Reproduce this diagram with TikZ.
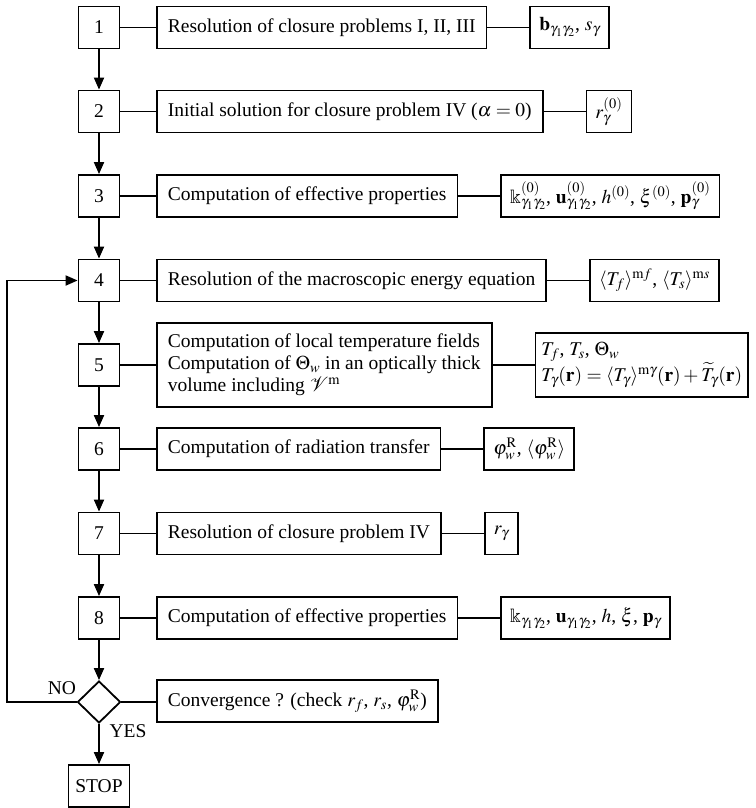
\documentclass[tikz,border=0pt]{standalone}
\usepackage{mathptmx}
\usepackage{amssymb}
\usepackage{mathrsfs}
\usepackage{fontspec}
\setmainfont{Liberation Serif}
\usetikzlibrary{arrows.meta,shapes.geometric,positioning}
\begin{document}
\begin{tikzpicture}[x=1pt,y=-1pt,
  font=\fontsize{19.5}{22}\selectfont,
  line width=1.8pt,
  num/.style={draw, minimum width=41pt, minimum height=42pt, inner sep=0pt},
  mid/.style={draw, anchor=west, minimum height=42pt, inner xsep=11pt, inner ysep=4pt},
  res/.style={draw, minimum height=42pt, inner xsep=9pt, inner ysep=4pt},
  flow/.style={-{Triangle[length=12pt,width=10pt]}}]
\useasboundingbox (0,0) rectangle (755,808);

% number boxes
\node[num] (n1) at (99,27.5) {1};
\node[num] (n2) at (99,111.5) {2};
\node[num] (n3) at (99,196) {3};
\node[num] (n4) at (99,280.5) {4};
\node[num] (n5) at (99,365) {5};
\node[num] (n6) at (99,449) {6};
\node[num] (n7) at (99,533.5) {7};
\node[num] (n8) at (99,618) {8};
\node[draw, diamond, aspect=1, minimum width=43pt, minimum height=42pt, inner sep=0pt] (dia) at (99,702) {};
\node[num, minimum width=61pt] (stop) at (99,786) {STOP};

% middle boxes
\node[mid] (m1) at (156,27.5) {Resolution of closure problems I, II, III};
\node[mid] (m2) at (156,111.5) {Initial solution for closure problem IV ($\alpha = 0$)};
\node[mid] (m3) at (156,196) {Computation of effective properties};
\node[mid] (m4) at (156,280.5) {Resolution of the macroscopic energy equation};
\node[mid, align=left, minimum height=84pt] (m5) at (156,365) {Computation of local temperature fields\\Computation of $\Theta_w$ in an optically thick\\volume including $\mathscr{V}^{\mathrm{m}}$};
\node[mid] (m6) at (156,449) {Computation of radiation transfer};
\node[mid] (m7) at (156,533.5) {Resolution of closure problem IV};
\node[mid] (m8) at (156,618) {Computation of effective properties};
\node[mid] (mc) at (156,701) {Convergence ? (check $r_f$, $r_s$, $\varphi_w^{\mathrm{R}}$)};

% result boxes
\node[res, right=42pt of m1] (r1) {$\mathbf{b}_{\gamma_1\gamma_2}$, $s_\gamma$};
\node[res, right=42pt of m2] (r2) {$r_\gamma^{(0)}$};
\node[res, right=42pt of m3] (r3) {$\Bbbk^{(0)}_{\gamma_1\gamma_2}$, $\mathbf{u}^{(0)}_{\gamma_1\gamma_2}$, $h^{(0)}$, $\xi^{(0)}$, $\mathbf{p}^{(0)}_\gamma$};
\node[res, right=42pt of m4] (r4) {$\langle T_f\rangle^{\mathrm{m}f}$, $\langle T_s\rangle^{\mathrm{m}s}$};
\node[res, right=42pt of m5, align=left, minimum height=64pt, inner xsep=6pt] (r5) {$T_f$, $T_s$, $\Theta_w$\\$T_\gamma(\mathbf{r}) = \langle T_\gamma\rangle^{\mathrm{m}\gamma}(\mathbf{r}) + \widetilde{T}_\gamma(\mathbf{r})$};
\node[res, right=42pt of m6] (r6) {$\varphi_w^{\mathrm{R}}$, $\langle\varphi_w^{\mathrm{R}}\rangle$};
\node[res, right=42pt of m7] (r7) {$r_\gamma$};
\node[res, right=42pt of m8] (r8) {$\Bbbk_{\gamma_1\gamma_2}$, $\mathbf{u}_{\gamma_1\gamma_2}$, $h$, $\xi$, $\mathbf{p}_\gamma$};

% horizontal links
\foreach \i in {1,...,8} {
  \draw (n\i.east) -- (n\i.east -| m\i.west);
  \draw (m\i.east) -- (r\i.west);
}
\draw (dia.east) -- (dia.east -| mc.west);

% vertical flow
\draw[flow] (n1) -- (n2);
\draw[flow] (n2) -- (n3);
\draw[flow] (n3) -- (n4);
\draw[flow] (n4) -- (n5);
\draw[flow] (n5) -- (n6);
\draw[flow] (n6) -- (n7);
\draw[flow] (n7) -- (n8);
\draw[flow] (n8) -- (dia);
\draw[flow] (dia) -- (stop);

% loop back
\coordinate (lc) at (7,702);
\draw[flow] (dia.west) -- (lc) |- (n4.west);

\node (no) at (62,688) {NO};
\node (yes) at (128,731) {YES};
\end{tikzpicture}
\end{document}
